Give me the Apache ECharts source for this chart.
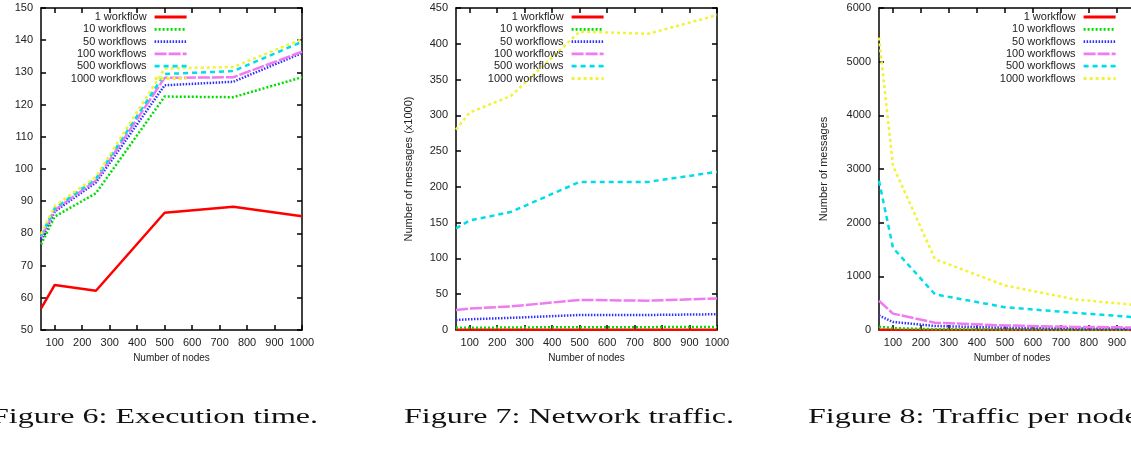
<!DOCTYPE html>
<html>
<head>
<meta charset="utf-8">
<script src="https://cdn.jsdelivr.net/npm/echarts@6/dist/echarts.min.js"></script>
<style>
html, body { margin: 0; padding: 0; background: #fff; }
#main { width: 1131px; height: 462px; }
</style>
</head>
<body>
<div id="main"></div>
<script>
var nodes = [50, 100, 250, 500, 750, 1000];
var tickNodes = [100, 200, 300, 400, 500, 600, 700, 800, 900, 1000];
var names = ['1 workflow', '10 workflows', '50 workflows', '100 workflows', '500 workflows', '1000 workflows'];

// Figure 6: execution time
var execTime = [
  [56.6, 64, 62.2, 86.4, 88.3, 85.3],
  [76.6, 85.2, 92.5, 122.5, 122.3, 128.5],
  [78, 86.8, 95.8, 126, 127.1, 136],
  [78.8, 87.3, 96.4, 128.3, 128.5, 136.4],
  [79.3, 87.8, 97, 129.5, 130.4, 139.5],
  [79.8, 88.5, 97.6, 131.2, 131.7, 140.3]
];
// Figure 7: network traffic (x1000)
var traffic = [
  [0.2, 0.3, 0.4, 0.5, 0.5, 0.5],
  [3, 3, 3.5, 4, 4, 4.2],
  [14, 15, 17, 21, 21, 22],
  [28, 30, 33, 42, 41, 44],
  [142, 153, 165, 207, 207, 221],
  [280, 304, 327, 417, 414, 440]
];
// Figure 8: traffic per node
var perNode = [
  [5, 4, 2, 1, 1, 1],
  [60, 35, 15, 8, 6, 4],
  [270, 150, 75, 42, 30, 22],
  [545, 305, 135, 85, 58, 45],
  [2780, 1530, 665, 425, 320, 225],
  [5450, 3060, 1320, 830, 570, 450]
];
var captions = ['Figure 6: Execution time.', 'Figure 7: Network traffic.', 'Figure 8: Traffic per node.'];

var colors = ['#ff0000', '#00dd00', '#3030ff', '#f07af0', '#00dde8', '#f2f236'];
var dashes = ['solid', [2, 2], [1.5, 1.5], [12, 2], [5, 4], [3, 3]];

var black = '#000';
var plain = function (v) { return String(v); };
var labelStyle = { color: '#222', fontSize: 11, fontFamily: 'Liberation Sans', formatter: plain };

function xAxes(gi) {
  return [{
    type: 'value', gridIndex: gi, min: 50, max: 1000, position: 'bottom',
    name: 'Number of nodes', nameLocation: 'middle', nameGap: 23,
    nameTextStyle: { color: '#222', fontSize: 10, fontFamily: 'Liberation Sans' },
    axisLine: { onZero: false, lineStyle: { color: black, width: 1.5 } },
    axisTick: { inside: true, length: 5, customValues: tickNodes, lineStyle: { color: black, width: 1.5 } },
    axisLabel: Object.assign({ customValues: tickNodes, margin: 7 }, labelStyle),
    splitLine: { show: false }
  }, {
    type: 'value', gridIndex: gi, min: 50, max: 1000, position: 'top',
    axisLine: { onZero: false, lineStyle: { color: black, width: 1.5 } },
    axisTick: { inside: true, length: 5, customValues: tickNodes, lineStyle: { color: black, width: 1.5 } },
    axisLabel: { show: false },
    splitLine: { show: false }
  }];
}

function yAxes(gi, min, max, step, title, gap) {
  return [{
    type: 'value', gridIndex: gi, min: min, max: max, interval: step, position: 'left',
    name: title, nameLocation: 'middle', nameGap: gap,
    nameTextStyle: { color: '#222', fontSize: 11, fontFamily: 'Liberation Sans' },
    axisLine: { onZero: false, lineStyle: { color: black, width: 1.5 } },
    axisTick: { inside: true, length: 5, lineStyle: { color: black, width: 1.5 } },
    axisLabel: Object.assign({ margin: 8 }, labelStyle),
    splitLine: { show: false }
  }, {
    type: 'value', gridIndex: gi, min: min, max: max, interval: step, position: 'right',
    axisLine: { onZero: false, lineStyle: { color: black, width: 1.5 } },
    axisTick: { inside: true, length: 5, lineStyle: { color: black, width: 1.5 } },
    axisLabel: { show: false },
    splitLine: { show: false }
  }];
}

function legendAt(right) {
  return {
    orient: 'vertical', right: right, top: 11, padding: 0,
    itemWidth: 32, itemHeight: 8, itemGap: 0.3, align: 'right',
    selectedMode: false, data: names,
    itemStyle: { opacity: 0 },
    lineStyle: { width: 2.8, opacity: 1 },
    textStyle: { width: 90, align: 'right', fontSize: 11, lineHeight: 12, color: '#222', fontFamily: 'Liberation Sans', padding: [0, 3, 0, 0] }
  };
}

var sets = [execTime, traffic, perNode];
var series = [];
sets.forEach(function (set, c) {
  set.forEach(function (vals, i) {
    series.push({
      type: 'line', name: names[i],
      xAxisIndex: c * 2, yAxisIndex: c * 2,
      data: nodes.map(function (n, k) { return [n, vals[k]]; }),
      symbol: 'none', silent: true,
      lineStyle: { color: colors[i], width: 2.5, type: dashes[i] },
      itemStyle: { color: colors[i] }
    });
  });
});

var grids = [
  { left: 41, top: 8, width: 261, height: 322, outerBoundsMode: 'none' },
  { left: 456, top: 8, width: 261, height: 322, outerBoundsMode: 'none' },
  { left: 879, top: 8, width: 266, height: 322, outerBoundsMode: 'none' }
];

var capFont = '20px "Liberation Serif"';
var option = {
  animation: false,
  grid: grids,
  xAxis: xAxes(0).concat(xAxes(1), xAxes(2)),
  yAxis: yAxes(0, 50, 150, 10, '', 30).concat(
    yAxes(1, 0, 450, 50, 'Number of messages (x1000)', 42),
    yAxes(2, 0, 6000, 1000, 'Number of messages', 50)),
  legend: [legendAt(943), legendAt(526), legendAt(14)],
  series: series,
  graphic: [
    { type: 'text', x: 318, y: 418, scaleX: 1.6, style: { text: captions[0], font: capFont, fill: '#111', align: 'right', verticalAlign: 'middle' } },
    { type: 'text', x: 569, y: 418, scaleX: 1.6, style: { text: captions[1], font: capFont, fill: '#111', align: 'center', verticalAlign: 'middle' } },
    { type: 'text', x: 808, y: 418, scaleX: 1.6, style: { text: captions[2], font: capFont, fill: '#111', align: 'left', verticalAlign: 'middle' } }
  ]
};

var myChart = echarts.init(document.getElementById('main'));
myChart.setOption(option);
</script>
</body>
</html>
